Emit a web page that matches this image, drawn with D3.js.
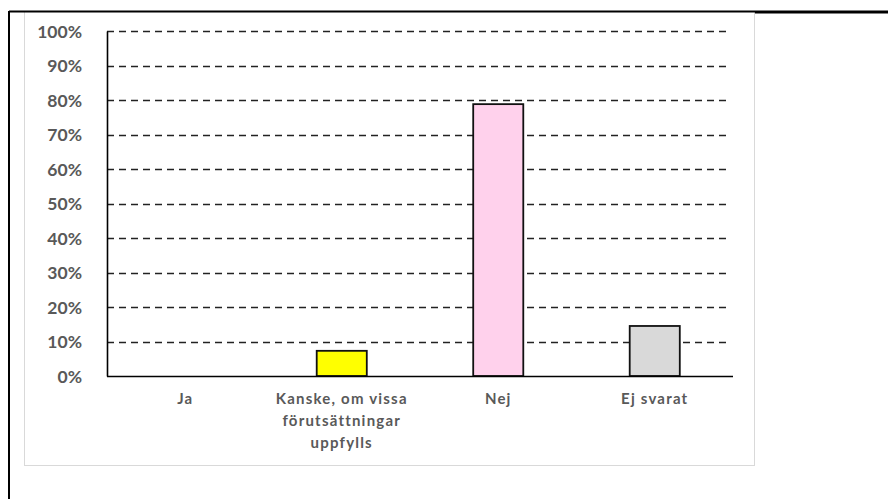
<!DOCTYPE html>
<html lang="sv">
<head>
    <meta charset="UTF-8">
    <title>Svar</title>
    <script src="https://d3js.org/d3.v7.min.js" charset="utf-8"></script>
    <style>
        body { margin: 0; background: #fff; }
        text { font-family: Lato, "Liberation Sans", sans-serif; font-weight: bold; fill: #595959; }
    </style>
</head>
<body>
    <script>
        var categories = ["Ja", "Kanske, om vissa förutsättningar uppfylls", "Nej", "Ej svarat"];
        var labelLines = [["Ja"], ["Kanske, om vissa", "förutsättningar", "uppfylls"], ["Nej"], ["Ej svarat"]];
        var values = [0, 0.073, 0.788, 0.145];
        var colors = ["#ffffff", "#ffff00", "#ffd1ec", "#d9d9d9"];
        var yTicks = [0, 0.1, 0.2, 0.3, 0.4, 0.5, 0.6, 0.7, 0.8, 0.9, 1];

        var width = 888, height = 499;

        var svg = d3.select("body").append("svg")
            .attr("width", width)
            .attr("height", height);

        // outer frame
        svg.append("rect").attr("x", 24.5).attr("y", 11.5).attr("width", 730).attr("height", 454)
            .attr("fill", "none").attr("stroke", "#d9d9d9");
        svg.append("line").attr("x1", 9).attr("x2", 755).attr("y1", 11.5).attr("y2", 11.5)
            .attr("stroke", "#000").attr("stroke-width", 2);
        svg.append("line").attr("x1", 755).attr("x2", width).attr("y1", 12).attr("y2", 12)
            .attr("stroke", "#000").attr("stroke-width", 3);
        svg.append("line").attr("x1", 9).attr("x2", 9).attr("y1", 11).attr("y2", height)
            .attr("stroke", "#000").attr("stroke-width", 2);

        var x = d3.scaleBand().domain(categories).range([107, 733]).paddingInner(0.68).paddingOuter(0.34);
        var y = d3.scaleLinear().domain([0, 1]).range([376, 31]);

        // dashed gridlines
        svg.append("g").selectAll("line")
            .data(yTicks.slice(1))
            .enter().append("line")
            .attr("x1", 107).attr("x2", 729)
            .attr("y1", function(d) { return Math.round(y(d)) + 0.5; })
            .attr("y2", function(d) { return Math.round(y(d)) + 0.5; })
            .attr("stroke", "#222").attr("stroke-width", 1.6)
            .attr("stroke-dasharray", "7,5");

        // bars
        svg.append("g").selectAll("rect")
            .data(values)
            .enter().append("rect")
            .attr("x", function(d, i) { return x(categories[i]); })
            .attr("y", function(d) { return y(d); })
            .attr("width", x.bandwidth())
            .attr("height", function(d) { return y(0) - y(d); })
            .attr("fill", function(d, i) { return colors[i]; })
            .attr("stroke", "#111").attr("stroke-width", 1.8)
            .style("display", function(d) { return d > 0 ? null : "none"; });

        // y axis
        var yAxis = svg.append("g").attr("transform", "translate(107,0)")
            .call(d3.axisLeft(y).tickValues(yTicks).tickFormat(d3.format(".0%")).tickSize(0).tickPadding(25));
        yAxis.select(".domain").attr("stroke", "#000").attr("stroke-width", 1.6);
        yAxis.selectAll("text").style("font-size", "17.5px").attr("dy", "0.35em");

        svg.append("line").attr("x1", 107).attr("x2", 733).attr("y1", 376.5).attr("y2", 376.5)
            .attr("stroke", "#000").attr("stroke-width", 1.6);

        // category labels
        var labels = svg.append("g").selectAll("text")
            .data(labelLines)
            .enter().append("text")
            .attr("text-anchor", "middle")
            .style("font-size", "15px")
            .style("letter-spacing", "1.2px")
            .attr("x", function(d, i) { return x(categories[i]) + x.bandwidth() / 2; })
            .attr("y", 404);
        labels.selectAll("tspan")
            .data(function(d) { return d; })
            .enter().append("tspan")
            .attr("x", function() { return d3.select(this.parentNode).attr("x"); })
            .attr("dy", function(d, i) { return i === 0 ? 0 : 22; })
            .text(function(d) { return d; });
    </script>
</body>
</html>
